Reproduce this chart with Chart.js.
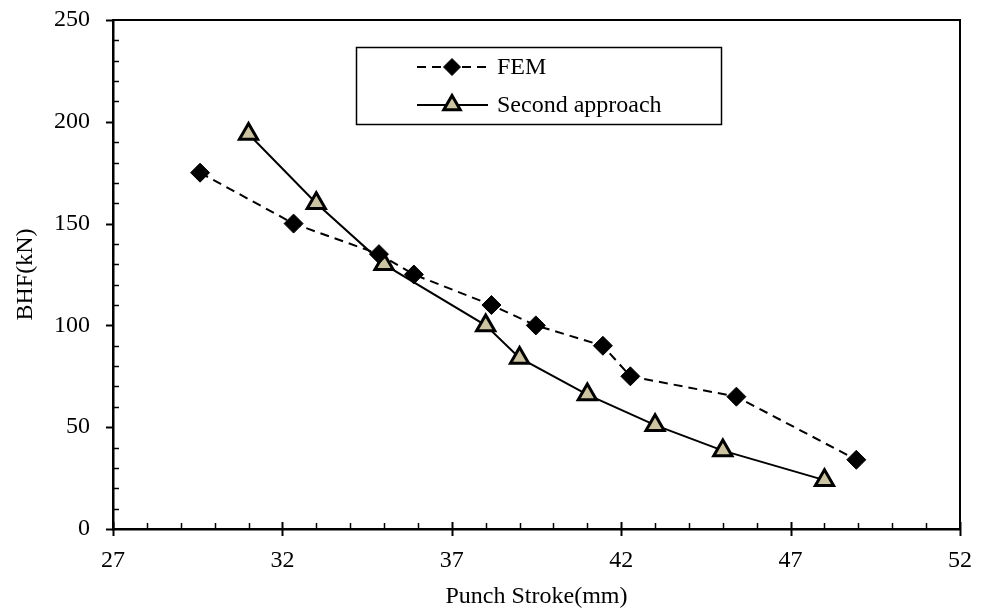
<!DOCTYPE html>
<html>
<head>
<meta charset="utf-8">
<script src="https://cdn.jsdelivr.net/npm/chart.js@4"></script>
<style>
  html, body { margin: 0; padding: 0; background: #fff; }
  #wrap { width: 986px; height: 615px; }
</style>
</head>
<body>
<div id="wrap"><canvas id="bhfChart" width="986" height="615"></canvas></div>
<script>
// FEM results
const femStroke = [29.57, 32.33, 34.85, 35.88, 38.17, 39.48, 41.46, 42.27, 45.40, 48.94];
const femBhf    = [175, 150, 135, 125, 110, 100, 90, 75, 65, 34];

// second approach
const secStroke = [31.0, 33.0, 35.0, 38.0, 39.0, 41.0, 43.0, 45.0, 48.0];
const secBhf    = [194, 160, 130, 100, 84, 66, 51, 38.5, 24];

const xTicks = [27, 32, 37, 42, 47, 52];
const yTicks = [0, 50, 100, 150, 200, 250];

const seriesNames = ['FEM', 'Second approach'];
const fontFamily = '"Liberation Serif", "Times New Roman", serif';

function toPoints(xs, ys) {
    return xs.map((x, i) => ({ x: x, y: ys[i] }));
}

// frame, major/minor ticks and the boxed legend
const frameAndLegend = {
    id: 'frameAndLegend',
    afterDraw(chart) {
        const ctx = chart.ctx;
        const a = chart.chartArea;
        const xs = chart.scales.x;
        const ys = chart.scales.y;
        ctx.save();
        ctx.strokeStyle = '#000';

        // top + right border
        ctx.lineWidth = 2;
        ctx.beginPath();
        ctx.moveTo(a.left, a.top);
        ctx.lineTo(a.right, a.top);
        ctx.lineTo(a.right, a.bottom);
        ctx.stroke();

        // x ticks
        for (let v = xs.min; v <= xs.max + 0.001; v += 1) {
            const px = Math.round(xs.getPixelForValue(v)) + 0.5;
            const major = xTicks.includes(Math.round(v));
            ctx.beginPath();
            if (major) {
                ctx.lineWidth = 2;
                ctx.moveTo(px, a.bottom - 7);
                ctx.lineTo(px, a.bottom + 7);
            } else {
                ctx.lineWidth = 1.5;
                ctx.moveTo(px, a.bottom - 6);
                ctx.lineTo(px, a.bottom);
            }
            ctx.stroke();
        }

        // y ticks
        for (let v = ys.min; v <= ys.max + 0.001; v += 10) {
            const py = Math.round(ys.getPixelForValue(v)) + 0.5;
            const major = yTicks.includes(Math.round(v));
            ctx.beginPath();
            if (major) {
                ctx.lineWidth = 2;
                ctx.moveTo(a.left - 7, py);
                ctx.lineTo(a.left, py);
            } else {
                ctx.lineWidth = 1.5;
                ctx.moveTo(a.left, py);
                ctx.lineTo(a.left + 6, py);
            }
            ctx.stroke();
        }

        // legend box
        const box = { left: 356.5, top: 47.5, right: 721.5, bottom: 124.5 };
        ctx.lineWidth = 1.5;
        ctx.strokeRect(box.left, box.top, box.right - box.left, box.bottom - box.top);

        const rowsY = [67, 105];
        ctx.font = '24px ' + fontFamily;
        ctx.textBaseline = 'middle';
        ctx.fillStyle = '#000';
        chart.data.datasets.forEach((ds, i) => {
            const y = rowsY[i];
            ctx.save();
            ctx.strokeStyle = ds.borderColor;
            ctx.lineWidth = ds.borderWidth;
            ctx.setLineDash(ds.borderDash || []);
            ctx.beginPath();
            ctx.moveTo(417, y);
            ctx.lineTo(488, y);
            ctx.stroke();
            ctx.restore();

            ctx.save();
            ctx.fillStyle = ds.pointBackgroundColor;
            ctx.strokeStyle = ds.pointBorderColor;
            ctx.lineWidth = ds.pointBorderWidth;
            Chart.helpers.drawPoint(ctx, {
                pointStyle: ds.pointStyle,
                radius: ds.pointRadius - 1,
                borderWidth: ds.pointBorderWidth,
                rotation: 0
            }, 452, y);
            ctx.restore();

            ctx.fillText(ds.label, 497, y + 1);
        });
        ctx.restore();
    }
};

new Chart(document.getElementById('bhfChart'), {
    type: 'scatter',
    data: {
        datasets: [
            {
                label: seriesNames[0],
                data: toPoints(femStroke, femBhf),
                showLine: true,
                borderColor: '#000',
                borderWidth: 2,
                borderDash: [9, 6],
                pointStyle: 'rectRot',
                pointRadius: 9.5,
                pointBackgroundColor: '#000',
                pointBorderColor: '#000',
                pointBorderWidth: 1
            },
            {
                label: seriesNames[1],
                data: toPoints(secStroke, secBhf),
                showLine: true,
                borderColor: '#000',
                borderWidth: 2,
                pointStyle: 'triangle',
                pointRadius: 10.5,
                pointBackgroundColor: '#cbc3a1',
                pointBorderColor: '#000',
                pointBorderWidth: 3
            }
        ]
    },
    options: {
        responsive: false,
        animation: false,
        layout: { padding: { left: 0, right: 26, top: 20, bottom: 0 } },
        plugins: {
            legend: { display: false },
            tooltip: { enabled: false }
        },
        scales: {
            x: {
                type: 'linear',
                min: 27,
                max: 52,
                afterBuildTicks: axis => { axis.ticks = xTicks.map(v => ({ value: v })); },
                afterFit: axis => {
                    axis.height = 86;
                    axis.paddingLeft = 0;
                    axis.paddingRight = 0;
                },
                grid: { display: false, drawTicks: false },
                border: { display: true, color: '#000', width: 2.5 },
                ticks: {
                    color: '#000',
                    padding: 17,
                    maxRotation: 0,
                    font: { family: fontFamily, size: 24 }
                },
                title: {
                    display: true,
                    text: 'Punch Stroke(mm)',
                    color: '#000',
                    font: { family: fontFamily, size: 24 },
                    padding: { top: 0, bottom: 4 }
                }
            },
            y: {
                type: 'linear',
                min: 0,
                max: 250,
                afterBuildTicks: axis => { axis.ticks = yTicks.map(v => ({ value: v })); },
                afterFit: axis => {
                    axis.width = 113;
                    axis.paddingTop = 0;
                    axis.paddingBottom = 0;
                },
                grid: { display: false, drawTicks: false },
                border: { display: true, color: '#000', width: 2.5 },
                ticks: {
                    color: '#000',
                    padding: 23,
                    font: { family: fontFamily, size: 24 }
                },
                title: {
                    display: true,
                    text: 'BHF(kN)',
                    color: '#000',
                    font: { family: fontFamily, size: 24 },
                    padding: { top: 11, bottom: 0 }
                }
            }
        }
    },
    plugins: [frameAndLegend]
});
</script>
</body>
</html>
